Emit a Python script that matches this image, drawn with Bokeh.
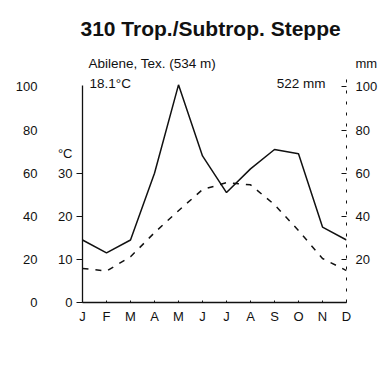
from bokeh.plotting import figure
from bokeh.models import Range1d, LinearAxis, FixedTicker, Label
from bokeh.embed import file_html
from bokeh.resources import INLINE

# ---- data ----
months = ["J", "F", "M", "A", "M", "J", "J", "A", "S", "O", "N", "D"]
precip_mm = [29, 23, 29, 60, 101, 68, 51, 62, 71, 69, 35, 29]
temp_c = [7.9, 7.3, 10.6, 16.2, 21.3, 26.2, 27.8, 27.3, 22.7, 16.7, 10.2, 7.4]
mm_ticks_left = [0, 20, 40, 60, 80, 100]
temp_ticks = [0, 10, 20, 30]
mm_ticks_right = [20, 40, 60, 80, 100]
title_text = "310 Trop./Subtrop. Steppe"
station = "Abilene, Tex. (534 m)"
mean_temp = "18.1°C"
annual_precip = "522 mm"
temp_unit = "°C"
precip_unit = "mm"

FONT = "Liberation Sans"
INK = "#111111"
x = list(range(len(months)))
Y_END = 116.0          # mm at top of frame
UNIT_Y_MM = 110.9      # height of the unit captions (mm scale)
TEMP_UNIT_Y = 34.5     # height of the °C caption (°C scale)

p = figure(width=384, height=340, output_backend="svg", toolbar_location=None,
           x_range=Range1d(0, 11), y_range=Range1d(0, Y_END),
           min_border_left=82, min_border_right=38, min_border_top=52, min_border_bottom=38,
           x_axis_location=None, y_axis_location=None)
p.extra_y_ranges = {"temp": Range1d(0, Y_END / 2)}
p.grid.grid_line_color = None
p.outline_line_color = None
p.background_fill_color = "white"
p.border_fill_color = "white"

p.title.text = title_text
p.title.align = "left"
p.title.text_font = FONT
p.title.text_font_style = "bold"
p.title.text_font_size = "21px"
p.title.text_color = INK
p.title.offset = -2
if "standoff" in p.title.properties():
    p.title.standoff = 26

def style(ax):
    ax.minor_tick_line_color = None
    ax.major_label_text_font = FONT
    ax.major_label_text_font_size = "13px"
    ax.major_label_text_color = INK
    ax.axis_line_color = INK
    ax.major_tick_line_color = INK

# bottom month axis
xa = LinearAxis(ticker=FixedTicker(ticks=x),
                major_label_overrides={i: m for i, m in enumerate(months)})
style(xa)
xa.major_tick_in = 2
xa.major_tick_out = 0
xa.major_label_standoff = 6
xa.axis_line_width = 1.5
p.add_layout(xa, "below")

# inner left temperature axis (with the °C caption as an extra label)
ta = LinearAxis(y_range_name="temp",
                ticker=FixedTicker(ticks=temp_ticks + [TEMP_UNIT_Y], minor_ticks=temp_ticks),
                major_label_overrides={TEMP_UNIT_Y: temp_unit},
                bounds=(0, 50.3))
style(ta)
ta.major_tick_line_color = None
ta.major_tick_out = 6
ta.major_tick_in = 0
ta.minor_tick_line_color = INK
ta.minor_tick_out = 6
ta.minor_tick_in = 0
ta.major_label_standoff = 4
ta.axis_line_width = 1.3
p.add_layout(ta, "left")

# outer left precipitation scale
ma = LinearAxis(ticker=FixedTicker(ticks=mm_ticks_left))
style(ma)
ma.axis_line_color = None
ma.major_tick_line_color = None
ma.major_tick_out = 0
ma.major_tick_in = 0
ma.major_label_standoff = 17
p.add_layout(ma, "left")

# right precipitation axis (with the mm caption as an extra label)
ra = LinearAxis(ticker=FixedTicker(ticks=mm_ticks_right + [UNIT_Y_MM], minor_ticks=mm_ticks_right),
                major_label_overrides={UNIT_Y_MM: precip_unit},
                bounds=(0, 104))
style(ra)
ra.major_tick_line_color = None
ra.major_tick_in = 5
ra.major_tick_out = 0
ra.minor_tick_line_color = INK
ra.minor_tick_in = 5
ra.minor_tick_out = 0
ra.major_label_standoff = 9
ra.axis_line_dash = "3 8"
ra.axis_line_width = 1.0
p.add_layout(ra, "right")

# data lines
p.line(x, precip_mm, line_color=INK, line_width=1.5)
p.line(x, temp_c, y_range_name="temp", line_color=INK, line_width=1.5, line_dash="6 7")

# annotations
def lab(xv, yv, text, align="left", size="13.5px"):
    p.add_layout(Label(x=xv, y=yv, text=text, text_font=FONT, text_font_size=size,
                       text_color=INK, text_align=align, text_baseline="middle"))

lab(0.25, UNIT_Y_MM, station)
lab(0.29, 101.4, mean_temp)
lab(10.125, 101.6, annual_precip, align="right")

open("out.html", "w").write(file_html(p, INLINE))
